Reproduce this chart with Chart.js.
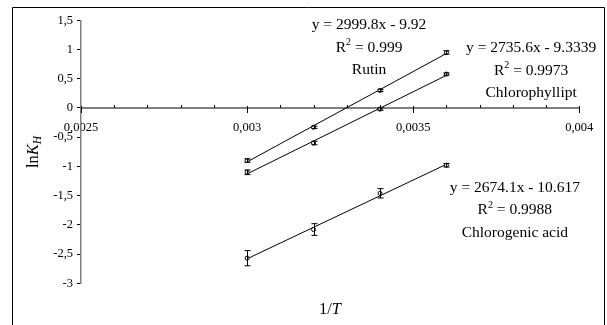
<!DOCTYPE html>
<html><head><meta charset="utf-8">
<script src="https://cdn.jsdelivr.net/npm/chart.js@4.4.1/dist/chart.umd.min.js"></script>
<style>html,body{margin:0;padding:0;background:#fff;} canvas{display:block;}</style>
</head><body>
<canvas id="c" width="607" height="325"></canvas>
<script>
// ---- data ----
const xValues   = [0.003, 0.0032, 0.0034, 0.0036];   // 1/T
const rutinY    = [-0.90, -0.33, 0.30, 0.95];
const rutinErr  = [0.03, 0.02, 0.02, 0.03];
const chloroY   = [-1.10, -0.60, -0.02, 0.58];
const chloroErr = [0.04, 0.03, 0.02, 0.02];
const acidY     = [-2.57, -2.08, -1.46, -0.98];
const acidErr   = [0.13, 0.10, 0.08, 0.03];
const seriesNames = ['Rutin', 'Chlorophyllipt', 'Chlorogenic acid'];
const equations   = ['y = 2999.8x - 9.92', 'y = 2735.6x - 9.3339', 'y = 2674.1x - 10.617'];
const r2Values    = ['0.999', '0.9973', '0.9988'];
const labelAnchorX = [0.003367, 0.003855, 0.003806];  // data-space centre of each label block
const labelAnchorY = [1.42, 1.02, -1.364];             // data-space y of first label line
const xMin = 0.0025, xMax = 0.004, xMajor = 0.0005, xMinor = 0.0001;
const yMin = -3, yMax = 1.5, yStep = 0.5;
const yTitle = ['ln', 'K', 'H'];
const xTitle = ['1/', 'T'];

const SERIF = '"Liberation Serif", "Times New Roman", serif';
const fmt = v => parseFloat(v.toFixed(6)).toString().replace('.', ',');

function trend(xs, ys) {
  const n = xs.length;
  const mx = xs.reduce((a, b) => a + b, 0) / n;
  const my = ys.reduce((a, b) => a + b, 0) / n;
  let sxy = 0, sxx = 0;
  for (let i = 0; i < n; i++) { sxy += (xs[i] - mx) * (ys[i] - my); sxx += (xs[i] - mx) ** 2; }
  const b = sxy / sxx, a = my - b * mx;
  return [{x: xs[0], y: a + b * xs[0]}, {x: xs[n - 1], y: a + b * xs[n - 1]}];
}
const pts = ys => xValues.map((x, i) => ({x, y: ys[i]}));
const allY = [rutinY, chloroY, acidY];
const allErr = [rutinErr, chloroErr, acidErr];

const lineDs = ys => ({type: 'line', data: trend(xValues, ys), borderColor: '#000', borderWidth: 1,
  pointRadius: 0, fill: false, tension: 0, order: 2});
const ptDs = ys => ({type: 'scatter', data: pts(ys), pointRadius: 2, pointStyle: 'circle',
  pointBorderColor: '#000', pointBackgroundColor: '#fff', pointBorderWidth: 1, order: 1});

const framePlugin = {
  id: 'frame',
  beforeDraw(chart) {
    const c = chart.ctx;
    c.save();
    c.fillStyle = '#fff'; c.fillRect(0, 0, chart.width, chart.height);
    c.strokeStyle = '#000'; c.lineWidth = 1;
    c.beginPath(); c.moveTo(12.5, 330); c.lineTo(12.5, 7.5); c.lineTo(604.5, 7.5); c.lineTo(604.5, 330); c.stroke();
    c.restore();
  }
};

const xTickPlugin = {
  id: 'xticks',
  afterDraw(chart) {
    const c = chart.ctx, xs = chart.scales.x, ys = chart.scales.y;
    const y0 = Math.round(ys.getPixelForValue(0));
    c.save(); c.strokeStyle = '#000'; c.lineWidth = 1;
    const n = Math.round((xMax - xMin) / xMinor);
    for (let k = 0; k <= n; k++) {
      const v = xMin + k * xMinor;
      const px = Math.round(xs.getPixelForValue(v)) + 0.5;
      const major = k % Math.round(xMajor / xMinor) === 0;
      c.beginPath();
      if (major) { c.moveTo(px, y0 - 2); c.lineTo(px, y0 + 5); }
      else { c.moveTo(px, y0 - 3); c.lineTo(px, y0); }
      c.stroke();
    }
    c.restore();
  }
};

const errPlugin = {
  id: 'errbars',
  afterDatasetsDraw(chart) {
    const c = chart.ctx, xs = chart.scales.x, ys = chart.scales.y;
    c.save(); c.strokeStyle = '#000'; c.lineWidth = 1;
    allY.forEach((arr, s) => {
      arr.forEach((v, i) => {
        const px = Math.round(xs.getPixelForValue(xValues[i])) + 0.5;
        const t = ys.getPixelForValue(v + allErr[s][i]);
        const b = ys.getPixelForValue(v - allErr[s][i]);
        c.beginPath();
        c.moveTo(px, t); c.lineTo(px, b);
        c.moveTo(px - 3, t); c.lineTo(px + 3, t);
        c.moveTo(px - 3, b); c.lineTo(px + 3, b);
        c.stroke();
      });
    });
    c.restore();
  }
};

const textPlugin = {
  id: 'texts',
  afterDraw(chart) {
    const c = chart.ctx, xs = chart.scales.x, ys = chart.scales.y;
    const fs = 15.5, lh = 22.5;
    c.save(); c.fillStyle = '#000'; c.textBaseline = 'middle';
    for (let s = 0; s < 3; s++) {
      const cx = xs.getPixelForValue(labelAnchorX[s]);
      const cy = ys.getPixelForValue(labelAnchorY[s]);
      c.font = fs + 'px ' + SERIF; c.textAlign = 'center';
      c.fillText(equations[s], cx, cy);
      c.fillText(seriesNames[s], cx, cy + 2 * lh);
      // R² line
      const a = 'R', rest = ' = ' + r2Values[s];
      c.font = fs + 'px ' + SERIF; const wa = c.measureText(a).width, wr = c.measureText(rest).width;
      c.font = (fs * 0.65) + 'px ' + SERIF; const ws = c.measureText('2').width;
      let x = cx - (wa + ws + wr) / 2;
      c.textAlign = 'left';
      c.font = fs + 'px ' + SERIF; c.fillText(a, x, cy + lh); x += wa;
      c.font = (fs * 0.65) + 'px ' + SERIF; c.fillText('2', x, cy + lh - 5); x += ws;
      c.font = fs + 'px ' + SERIF; c.fillText(rest, x, cy + lh);
    }
    // x title
    const tf = 16.5;
    c.font = tf + 'px ' + SERIF; const w1 = c.measureText(xTitle[0]).width;
    c.font = 'italic ' + tf + 'px ' + SERIF; const w2 = c.measureText(xTitle[1]).width;
    let x0 = 330 - (w1 + w2) / 2;
    c.textAlign = 'left';
    c.font = tf + 'px ' + SERIF; c.fillText(xTitle[0], x0, 310);
    c.font = 'italic ' + tf + 'px ' + SERIF; c.fillText(xTitle[1], x0 + w1, 310);
    // y title (rotated)
    c.translate(33, 152); c.rotate(-Math.PI / 2);
    c.textBaseline = 'alphabetic';
    c.font = tf + 'px ' + SERIF; const a1 = c.measureText(yTitle[0]).width;
    c.font = 'italic ' + tf + 'px ' + SERIF; const a2 = c.measureText(yTitle[1]).width;
    c.font = 'italic ' + (tf * 0.7) + 'px ' + SERIF; const a3 = c.measureText(yTitle[2]).width;
    let yx = -(a1 + a2 + a3) / 2;
    c.font = tf + 'px ' + SERIF; c.fillText(yTitle[0], yx, 5); yx += a1;
    c.font = 'italic ' + tf + 'px ' + SERIF; c.fillText(yTitle[1], yx, 5); yx += a2;
    c.font = 'italic ' + (tf * 0.7) + 'px ' + SERIF; c.fillText(yTitle[2], yx, 8);
    c.restore();
  }
};

new Chart(document.getElementById('c'), {
  data: {datasets: [lineDs(rutinY), lineDs(chloroY), lineDs(acidY), ptDs(rutinY), ptDs(chloroY), ptDs(acidY)]},
  options: {
    responsive: false, animation: false, devicePixelRatio: 1,
    layout: {padding: {left: 0, right: 27.7, top: 20.3, bottom: 41.7}},
    plugins: {legend: {display: false}, tooltip: {enabled: false}},
    scales: {
      x: {type: 'linear', min: xMin, max: xMax, position: {y: 0},
        grid: {display: false, drawTicks: false},
        border: {display: true, color: '#808080', width: 2},
        ticks: {stepSize: xMajor, padding: 12, color: '#000', font: {family: SERIF, size: 12.5},
          callback: v => fmt(v), maxRotation: 0, autoSkip: false}},
      y: {type: 'linear', min: yMin, max: yMax, position: 'left',
        grid: {display: true, drawOnChartArea: false, drawTicks: true, tickLength: 4, color: '#000'},
        border: {display: true, color: '#808080', width: 1.5},
        ticks: {stepSize: yStep, padding: 4, color: '#000', font: {family: SERIF, size: 12.5},
          callback: v => fmt(v)},
        afterFit: s => { s.width = 81; }}
    }
  },
  plugins: [framePlugin, errPlugin, xTickPlugin, textPlugin]
});
</script>
</body></html>
